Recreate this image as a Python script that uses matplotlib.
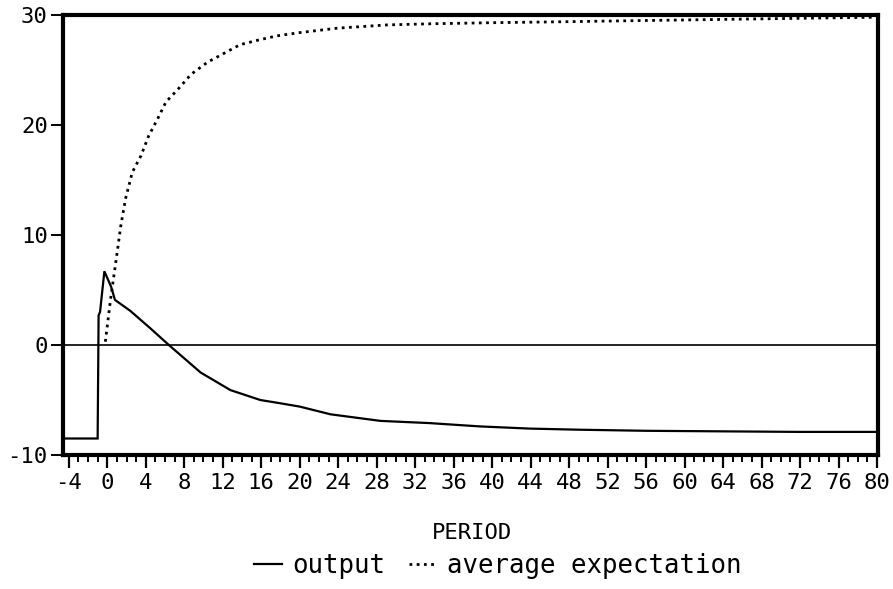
import matplotlib
matplotlib.use("Agg")
import matplotlib.pyplot as plt
from matplotlib.lines import Line2D
from matplotlib.ticker import MultipleLocator

# Data
out_x = [-4.5, -1.0, -0.9, -0.75, -0.3, 0.4, 0.8, 2.4, 4.5, 6.4, 9.7, 12.8,
         15.9, 18, 20, 23.2, 28.4, 33.5, 38.7, 43.9, 49, 56, 64, 72, 80]
out_y = [-8.5, -8.5, 2.7, 3.0, 6.7, 5.3, 4.1, 3.1, 1.5, 0.0, -2.5, -4.1,
         -5.0, -5.3, -5.6, -6.3, -6.9, -7.1, -7.4, -7.6, -7.7, -7.8, -7.85, -7.9, -7.9]

exp_x = [-0.2, 0.35, 0.9, 1.4, 1.9, 2.6, 3.5, 4.3, 5.2, 6.1, 7.3, 8.7, 10.4,
         12.1, 13.8, 15.6, 17.6, 20, 23.9, 29.1, 33.5, 40, 48.4, 56, 64, 72, 80]
exp_y = [0.3, 4.2, 7.6, 10.8, 13.3, 15.7, 17.2, 19.0, 20.5, 22.1, 23.2, 24.6, 25.7,
         26.5, 27.3, 27.7, 28.1, 28.4, 28.8, 29.1, 29.2, 29.3, 29.4, 29.5, 29.6, 29.7, 29.8]

x_ticks = list(range(-4, 81, 4))
y_ticks = [-10, 0, 10, 20, 30]

FONT = "DejaVu Sans Mono"
plt.rcParams['font.family'] = [FONT]

W, H = 893, 589
fig = plt.figure(figsize=(W / 100, H / 100), dpi=100)
L, R, T, B = 63, 878, 15, 455
ax = fig.add_axes([L / W, 1 - B / H, (R - L) / W, (B - T) / H])

ax.axhline(0, color="black", lw=1.2, zorder=1)
ax.plot(out_x, out_y, color="black", lw=1.6, solid_joinstyle="miter", zorder=3)
ax.plot(exp_x, exp_y, color="black", lw=2.0, linestyle=(0, (1, 1.6)), zorder=3)

ax.set_xlim(-4.6, 80.1)
ax.set_ylim(-10, 30)
ax.set_xticks(x_ticks)
ax.set_xticklabels([str(v) for v in x_ticks])
ax.xaxis.set_minor_locator(MultipleLocator(1))
ax.set_yticks(y_ticks)
ax.set_yticklabels([str(v) for v in y_ticks])

for s in ax.spines.values():
    s.set_linewidth(3.0)
    s.set_color("black")

ax.tick_params(axis="x", which="major", direction="out", length=9, width=1.6,
               labelsize=16, pad=4)
ax.tick_params(axis="x", which="minor", direction="out", length=5, width=1.4)
ax.tick_params(axis="y", which="major", direction="out", length=9, width=1.4,
               labelsize=16, pad=2)

fig.text(0.529, 1 - 533 / H, "PERIOD", ha="center", va="center", fontsize=16)

handles = [Line2D([], [], color="black", lw=1.6),
           Line2D([], [], color="black", lw=2.0, linestyle=(0, (1, 1.6)))]
fig.legend(handles, ["output", "average expectation"], loc="center",
           bbox_to_anchor=(498 / W, 1 - 566 / H), ncol=2, frameon=False,
           fontsize=18.5, handlelength=1.1, handletextpad=0.4, columnspacing=0.9)

fig.savefig("out.png", dpi=100)
